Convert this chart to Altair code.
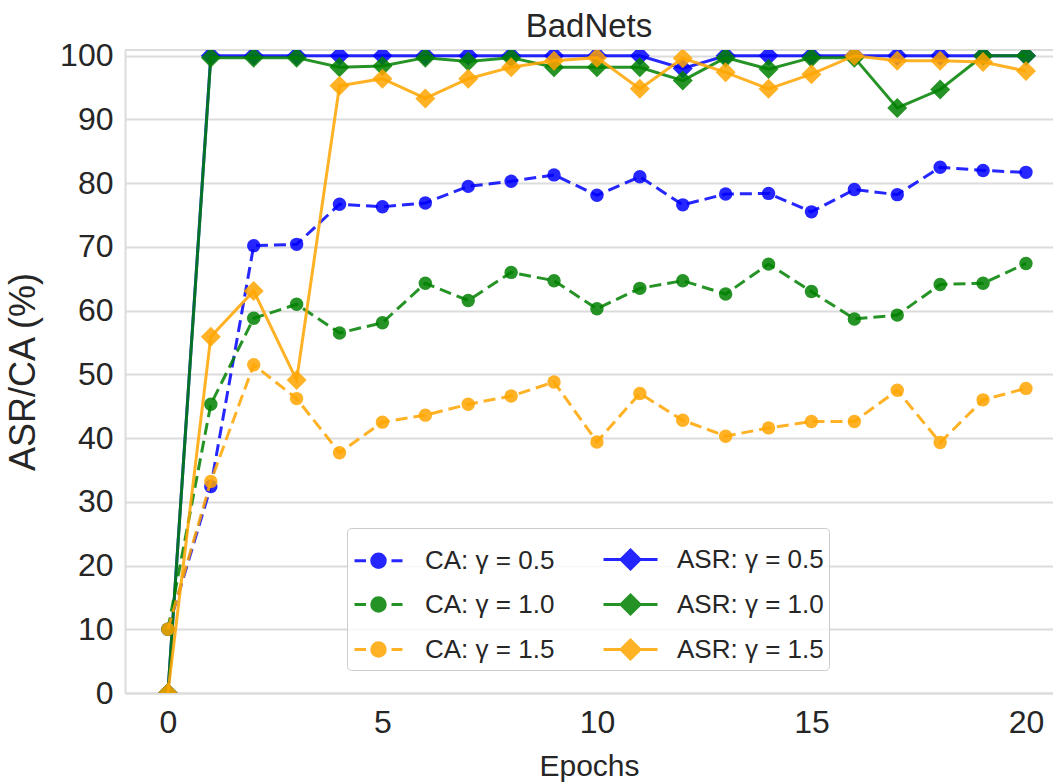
import altair as alt
import pandas as pd

# Training curves for the BadNets attack: clean accuracy (CA) and attack
# success rate (ASR) per epoch for three values of gamma.
epochs = list(range(21))

ca_g05 = [10, 32.4, 70.2, 70.4, 76.7, 76.3, 76.9, 79.5, 80.3, 81.3, 78.1,
          81.0, 76.6, 78.3, 78.4, 75.5, 79.0, 78.2, 82.5, 82.0, 81.7]
ca_g10 = [10, 45.3, 58.8, 61.0, 56.5, 58.1, 64.3, 61.6, 66.0, 64.7, 60.3,
          63.5, 64.7, 62.6, 67.3, 63.0, 58.7, 59.3, 64.1, 64.3, 67.4]
ca_g15 = [10, 33.2, 51.5, 46.2, 37.7, 42.5, 43.6, 45.3, 46.6, 48.8, 39.4,
          47.0, 42.8, 40.3, 41.6, 42.6, 42.6, 47.5, 39.3, 46.0, 47.8]

asr_g05 = [0, 100, 100, 100, 100, 100, 100, 100, 100, 100, 100,
           100, 98.0, 100, 100, 100, 100, 100, 100, 100, 100]
asr_g10 = [0, 99.7, 99.7, 99.7, 98.2, 98.4, 99.7, 99.1, 99.7, 98.2, 98.2,
           98.2, 96.1, 99.7, 97.9, 99.7, 99.7, 91.8, 94.7, 100, 100]
asr_g15 = [0, 55.9, 63.1, 49.1, 95.3, 96.4, 93.3, 96.4, 98.2, 99.2, 99.7,
           94.8, 99.6, 97.4, 94.8, 97.1, 100, 99.2, 99.2, 99.0, 97.6]

# drawing order (by gamma): CA then ASR for each value
series_names = ["CA: γ = 0.5", "ASR: γ = 0.5",
                "CA: γ = 1.0", "ASR: γ = 1.0",
                "CA: γ = 1.5", "ASR: γ = 1.5"]
series_values = [ca_g05, asr_g05, ca_g10, asr_g10, ca_g15, asr_g15]
series_colors = ["#0000ff", "#0000ff", "#008000", "#008000", "#ffa500", "#ffa500"]

# legend order: first column CA, second column ASR
legend_names = ["CA: γ = 0.5", "CA: γ = 1.0", "CA: γ = 1.5",
                "ASR: γ = 0.5", "ASR: γ = 1.0", "ASR: γ = 1.5"]
legend_colors = ["#0000ff", "#008000", "#ffa500", "#0000ff", "#008000", "#ffa500"]

x_ticks = [0, 5, 10, 15, 20]
y_ticks = list(range(0, 101, 10))

rows = []
for name, vals in zip(series_names, series_values):
    for e, v in zip(epochs, vals):
        rows.append({"epoch": e, "value": v, "series": name})
df = pd.DataFrame(rows)

FONT = "Liberation Sans"
TEXT = "#262626"
GRID = "#dcdcdc"
W, H = 928, 643

x_enc = alt.X(
    "epoch:Q",
    scale=alt.Scale(domain=[-1.0, 20.63], nice=False, zero=False),
    axis=alt.Axis(values=x_ticks, title="Epochs", grid=False, ticks=False,
                  domainColor=GRID, domainWidth=2, labelFontSize=32,
                  labelColor=TEXT, labelPadding=14, titleFontSize=30,
                  titleFontWeight="normal", titleColor=TEXT, titlePadding=13,
                  labelFont=FONT, titleFont=FONT),
)
y_enc = alt.Y(
    "value:Q",
    scale=alt.Scale(domain=[0, 100.9], nice=False),
    axis=alt.Axis(values=y_ticks, title="ASR/CA (%)", grid=True, gridColor=GRID,
                  gridWidth=2, ticks=False, domainColor=GRID, domainWidth=2,
                  labelFontSize=32, labelColor=TEXT, labelPadding=12,
                  titleFontSize=36, titleFontWeight="normal", titleColor=TEXT,
                  titlePadding=17, labelFont=FONT, titleFont=FONT),
)

OPACITY = 0.85
layers = []

# frame line along the top of the plotting area
layers.append(
    alt.Chart(alt.Data(values=[{"k": 1}]))
    .mark_rule(color=GRID, strokeWidth=2)
    .encode(x=alt.value(0), x2=alt.value(W), y=alt.value(0))
)

for name, col in zip(series_names, series_colors):
    base = alt.Chart(df).transform_filter(alt.datum.series == name)
    if name.startswith("CA"):
        line = base.mark_line(strokeWidth=3, strokeDash=[12, 6], opacity=OPACITY, color=col)
        pts = base.mark_point(shape="circle", filled=True, size=180,
                              opacity=OPACITY, clip=True, color=col)
    else:
        line = base.mark_line(strokeWidth=3, opacity=OPACITY, color=col)
        pts = base.mark_point(shape="diamond", filled=True, size=400,
                              opacity=OPACITY, clip=True, color=col)
    layers.append(line.encode(x=x_enc, y=y_enc))
    layers.append(pts.encode(x=x_enc, y=y_enc))

# legend symbols: a dashed line with a dot for CA, a solid line with a diamond for ASR
ca_symbol = ("M-0.96,0H-0.5M0.52,0H0.96"
             "M-0.27,0A0.27,0.27 0 1,0 0.27,0A0.27,0.27 0 1,0 -0.27,0Z")
asr_symbol = "M-1.08,0H1.08M0,-0.38L0.38,0L0,0.38L-0.38,0Z"
legend_shapes = [ca_symbol] * 3 + [asr_symbol] * 3

legend_cfg = alt.Legend(
    orient="none", legendX=222, legendY=478, columns=2, title=None,
    labelFontSize=26, labelFont=FONT, labelColor=TEXT, labelOffset=20,
    symbolSize=2500, symbolStrokeWidth=3, symbolOpacity=OPACITY, padding=5,
    columnPadding=42, rowPadding=3, strokeColor="#cccccc",
    fillColor="rgba(255,255,255,0.8)", cornerRadius=4,
)

# legend carrier: its own marks stay invisible, only the legend is shown
legend_layer = (
    alt.Chart(df)
    .mark_point(filled=True, strokeWidth=3)
    .encode(
        x=x_enc, y=y_enc,
        opacity=alt.value(0),
        fill=alt.Fill("series:N", scale=alt.Scale(domain=legend_names, range=legend_colors),
                      legend=legend_cfg),
        stroke=alt.Stroke("series:N", scale=alt.Scale(domain=legend_names, range=legend_colors),
                          legend=legend_cfg),
        shape=alt.Shape("series:N", scale=alt.Scale(domain=legend_names, range=legend_shapes),
                        legend=legend_cfg),
    )
)
layers.append(legend_layer)

chart = (
    alt.layer(*layers)
    .properties(
        width=W, height=H,
        title=alt.TitleParams("BadNets", fontSize=33, font=FONT, fontWeight="normal",
                              color=TEXT, anchor="middle", offset=-4),
        autosize=alt.AutoSizeParams(type="none"),
        padding={"left": 125, "top": 50, "right": 0, "bottom": 89},
    )
    .configure(font=FONT, background="white")
    .configure_view(stroke="transparent")
)

chart.save("out.html", embed_options={"renderer": "svg", "actions": False})
